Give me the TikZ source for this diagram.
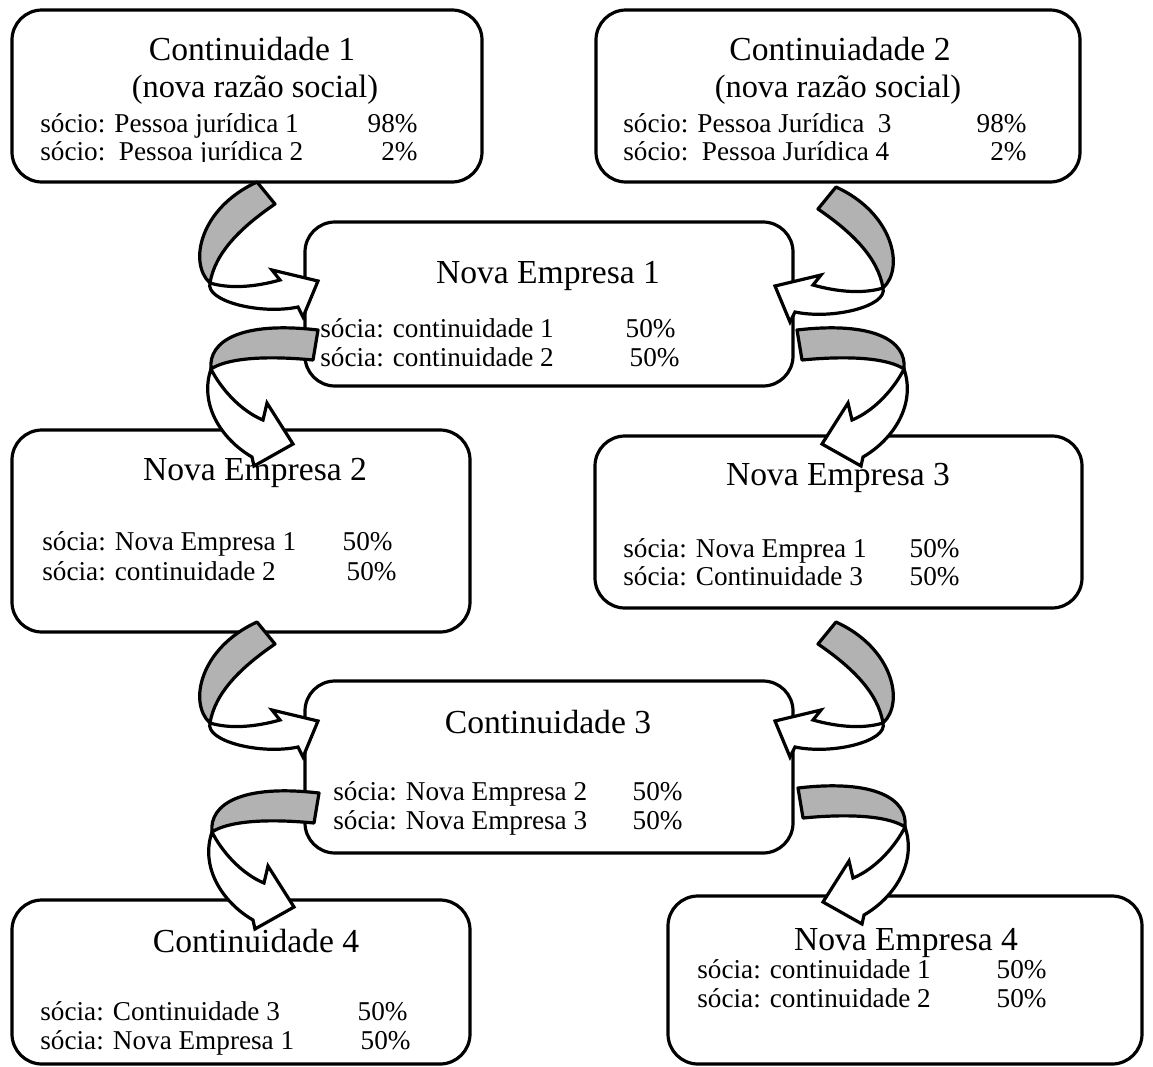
\documentclass[tikz,border=0pt]{standalone}
\usepackage{fontspec}
\setmainfont{Liberation Serif}
\begin{document}
\begin{tikzpicture}[x=0.5pt,y=-0.5pt,
  box/.style={draw, line width=1.6pt, rounded corners=15pt, fill=white, inner sep=0pt},
  ttl/.style={anchor=base, inner sep=0pt, font=\fontsize{16.8}{19}\selectfont},
  sub/.style={anchor=base, inner sep=0pt, font=\fontsize{16.2}{19}\selectfont},
  ln/.style={anchor=base west, inner sep=0pt, font=\fontsize{13.6}{15}\selectfont},
  pc/.style={anchor=base east, inner sep=0pt, font=\fontsize{13.6}{15}\selectfont},
  backface/.style={draw, line width=1.6pt, fill=black!30, line join=round},
  frontface/.style={draw, line width=1.6pt, fill=white, line join=miter},
  % ribbon arrow: falls from above, twists, then turns right
  curlright/.pic={
    \path[frontface] (0,0) .. controls (20,6) and (45,4) .. (70,-3)
      -- (62,-13) -- (108,-2) -- (93,34) -- (88,24)
      .. controls (50,32) and (-5,18) .. (0,0) -- cycle;
    \path[backface] (0,0) .. controls (-22,-20) and (-10,-75) .. (47,-101)
      -- (65,-79) .. controls (30,-55) and (5,-30) .. (0,0) -- cycle;
  },
  % ribbon arrow: comes from the right, twists, then turns down
  curldown/.pic={
    \path[frontface] (0,0) .. controls (10,20) and (30,42) .. (52,51)
      -- (56,34) -- (82,75) -- (43,97) -- (41,88)
      .. controls (10,70) and (-12,35) .. (0,0) -- cycle;
    \path[backface] (0,0) .. controls (-3,-28) and (30,-48) .. (107,-39)
      -- (102,-9) .. controls (50,-14) and (15,-10) .. (0,0) -- cycle;
  }]
\useasboundingbox (0,0) rectangle (1153,1067);
\fill[white] (0,0) rectangle (1153,1067);

% company boxes
\node[box, minimum width=235pt, minimum height=86pt] (c1) at (247,96) {};
\node[box, minimum width=242pt, minimum height=86pt] (c2) at (838,96) {};
\node[box, minimum width=244pt, minimum height=82pt] (ne1) at (549,304) {};
\node[box, minimum width=229pt, minimum height=101pt] (ne2) at (241,531) {};
\node[box, minimum width=243.5pt, minimum height=86pt] (ne3) at (838.5,522) {};
\node[box, minimum width=244pt, minimum height=86pt] (c3) at (549,767) {};
\node[box, minimum width=229pt, minimum height=82pt] (c4) at (241,982) {};
\node[box, minimum width=237pt, minimum height=84pt] (ne4) at (905,980) {};

% Continuidade 1
\node[ttl] (c1t) at (252,60) {Continuidade 1};
\node[sub] (c1s) at (255,97) {(nova razão social)};
\node[ln] (c1a) at (40,132) {sócio: Pessoa jurídica 1};
\node[pc] (c1ap) at (418,132) {98\%};
% Continuiadade 2
\node[ttl] (c2t) at (840,60) {Continuiadade 2};
\node[sub] (c2s) at (838,97) {(nova razão social)};
\node[ln] (c2a) at (623,132) {sócio: Pessoa Jurídica\ \ 3};
\node[pc] (c2ap) at (1027,132) {98\%};
% last rows of the two top boxes are cut off at the bottom
\begin{scope}
  \clip (0,0) rectangle (1153,161);
  \node[ln] (c1b) at (40,160) {sócio:\ \ Pessoa jurídica 2};
  \node[pc] (c1bp) at (418,160) {2\%};
  \node[ln] (c2b) at (623,160) {sócio:\ \ Pessoa Jurídica 4};
  \node[pc] (c2bp) at (1027,160) {2\%};
\end{scope}

% Nova Empresa 1
\node[ttl] (ne1t) at (548,283) {Nova Empresa 1};
\node[ln] (ne1a) at (320,337) {sócia: continuidade 1};
\node[pc] (ne1ap) at (676,337) {50\%};
\node[ln] (ne1b) at (320,366) {sócia: continuidade 2};
\node[pc] (ne1bp) at (680,366) {50\%};

% Nova Empresa 2
\node[ttl] (ne2t) at (255,480) {Nova Empresa 2};
\node[ln] (ne2a) at (42,550) {sócia: Nova Empresa 1};
\node[pc] (ne2ap) at (393,550) {50\%};
\node[ln] (ne2b) at (42,580) {sócia: continuidade 2};
\node[pc] (ne2bp) at (397,580) {50\%};

% Nova Empresa 3
\node[ttl] (ne3t) at (838,485) {Nova Empresa 3};
\node[ln] (ne3a) at (623,557) {sócia: Nova Emprea 1};
\node[pc] (ne3ap) at (960,557) {50\%};
\node[ln] (ne3b) at (623,585) {sócia: Continuidade 3};
\node[pc] (ne3bp) at (960,585) {50\%};

% Continuidade 3
\node[ttl] (c3t) at (548,733) {Continuidade 3};
\node[ln] (c3a) at (333,800) {sócia: Nova Empresa 2};
\node[pc] (c3ap) at (683,800) {50\%};
\node[ln] (c3b) at (333,829) {sócia: Nova Empresa 3};
\node[pc] (c3bp) at (683,829) {50\%};

% Continuidade 4
\node[ttl] (c4t) at (256,952) {Continuidade 4};
\node[ln] (c4a) at (40,1020) {sócia: Continuidade 3};
\node[pc] (c4ap) at (408,1020) {50\%};
\node[ln] (c4b) at (40,1049) {sócia: Nova Empresa 1};
\node[pc] (c4bp) at (411,1049) {50\%};

% Nova Empresa 4
\node[ttl] (ne4t) at (906,950) {Nova Empresa 4};
\node[ln] (ne4a) at (697,978) {sócia: continuidade 1};
\node[pc] (ne4ap) at (1047,978) {50\%};
\node[ln] (ne4b) at (697,1007) {sócia: continuidade 2};
\node[pc] (ne4bp) at (1047,1007) {50\%};

% twist points of the ribbon arrows
\coordinate (tA) at (210,283);
\coordinate (tC) at (883,288);
\coordinate (tB) at (211,369);
\coordinate (tD) at (904,369);
\coordinate (tE) at (210,723);
\coordinate (tG) at (883,723);
\coordinate (tF) at (212,832);
\coordinate (tH) at (905,827);

% ribbon arrows
\pic at (tA) {curlright};
\pic[xscale=-1] at (tC) {curlright};
\pic at (tB) {curldown};
\pic[xscale=-1] at (tD) {curldown};
\pic at (tE) {curlright};
\pic[xscale=-1] at (tG) {curlright};
\pic at (tF) {curldown};
\pic[xscale=-1] at (tH) {curldown};
\end{tikzpicture}
\end{document}
